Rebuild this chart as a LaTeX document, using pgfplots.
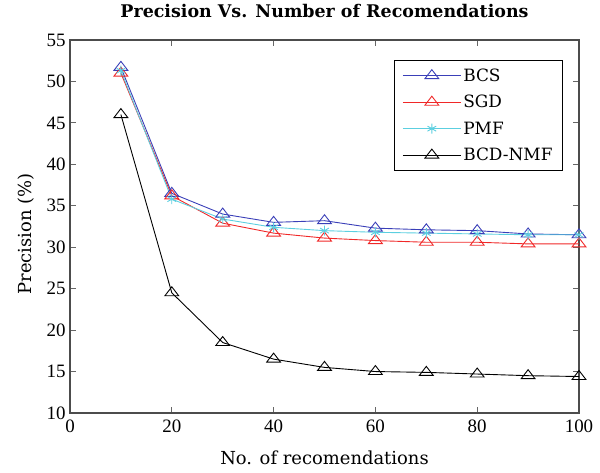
\documentclass[border=0pt]{standalone}
\usepackage{fontspec}
\setmainfont{DejaVu Serif}
\newfontfamily\tickfont{Liberation Serif}
\usepackage{pgfplots}
\pgfplotsset{compat=1.18}
\definecolor{cBCS}{HTML}{3A3FB8}
\definecolor{cSGD}{HTML}{F02828}
\definecolor{cPMF}{HTML}{5CCFE0}
\begin{document}
\begin{tikzpicture}
\begin{axis}[
  name=main,
  scale only axis,
  width=509bp, height=373bp,
  xmin=0, xmax=100, ymin=10, ymax=55,
  xtick={0,20,40,60,80,100},
  ytick={10,15,20,25,30,35,40,45,50,55},
  tick align=inside,
  major tick length=6bp,
  tick style={line width=0.8pt, gray!80!black},
  /pgf/number format/assume math mode=true,
  tick label style={font=\tickfont\fontsize{19}{21}\selectfont},
  xticklabel style={yshift=-3bp},
  yticklabel style={xshift=-1bp},
  xlabel={No. of recomendations},
  ylabel={Precision (\%)},
  label style={font=\fontsize{18}{20}\selectfont},
  xlabel style={at={(axis description cs:0.5,0)}, anchor=base, yshift=-52bp},
  ylabel style={at={(axis description cs:-0.087,0.48)}, anchor=center},
  title={\textbf{Precision Vs. Number of Recomendations}},
  title style={font=\fontsize{17.5}{19}\selectfont,
    at={(axis description cs:0.5,1)}, anchor=base, yshift=17bp},
  axis line style={line width=1.2pt, gray!60!black},
  legend style={at={(0.9686,0.946)}, anchor=north east,
    font=\fontsize{17}{19}\selectfont, draw=black, line width=1pt,
    row sep=8.5bp, inner xsep=8bp, inner ysep=6bp},
  legend cell align=left,
  legend image code/.code={
    \draw[mark repeat=2, mark phase=2]
      plot coordinates {(0bp,0bp) (29bp,0bp) (58bp,0bp)};},
  every axis plot/.append style={line width=0.9pt},
]
\addplot[cBCS, mark=triangle, mark size=8bp, mark options={yscale=0.75}] coordinates {
  (10,51.7)(20,36.5)(30,34.0)(40,33.0)(50,33.2)(60,32.3)(70,32.1)(80,32.0)(90,31.6)(100,31.5)};
\addlegendentry{BCS}
\addplot[cSGD, mark=triangle, mark size=8bp, mark options={yscale=0.75}] coordinates {
  (10,51.0)(20,36.2)(30,32.9)(40,31.7)(50,31.1)(60,30.8)(70,30.6)(80,30.6)(90,30.4)(100,30.4)};
\addlegendentry{SGD}
\addplot[cPMF, mark=asterisk, mark size=5bp] coordinates {
  (10,51.3)(20,35.8)(30,33.4)(40,32.4)(50,32.0)(60,31.8)(70,31.7)(80,31.6)(90,31.5)(100,31.5)};
\addlegendentry{PMF}
\addplot[black, mark=triangle, mark size=8bp, mark options={yscale=0.75}] coordinates {
  (10,46.0)(20,24.5)(30,18.5)(40,16.5)(50,15.5)(60,15.0)(70,14.9)(80,14.7)(90,14.5)(100,14.4)};
\addlegendentry{BCD-NMF}
\end{axis}
\path[use as bounding box] ([shift={(-70bp,-60bp)}]main.south west)
  rectangle ([shift={(21bp,40bp)}]main.north east);
\end{tikzpicture}
\end{document}
